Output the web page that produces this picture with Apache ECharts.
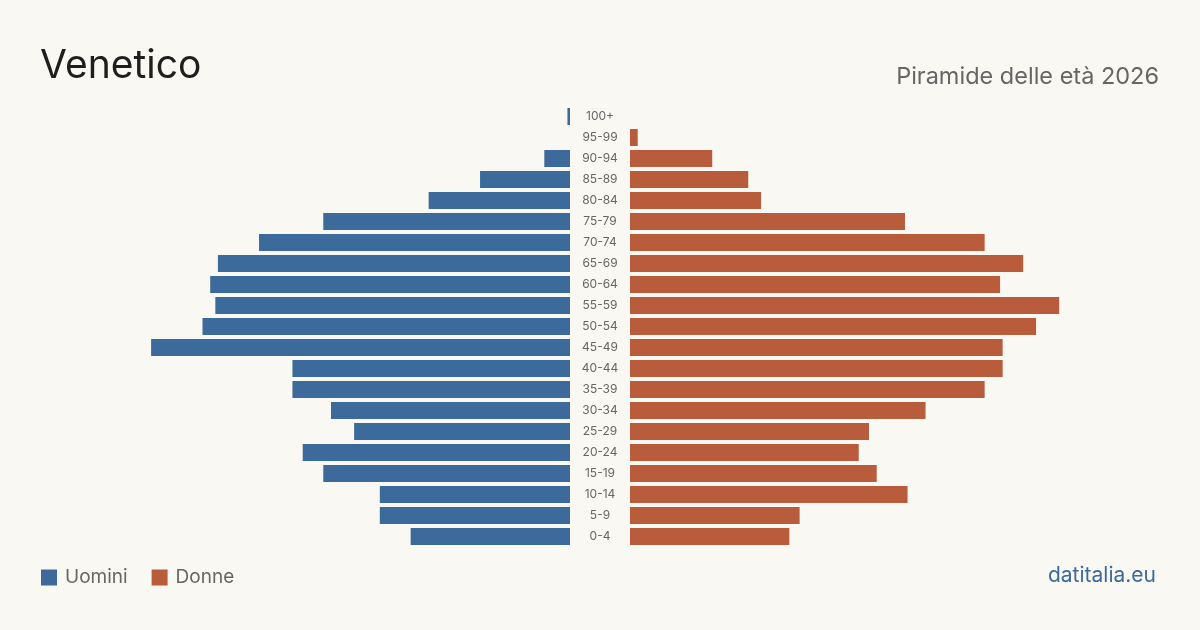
<!DOCTYPE html>
<html>
<head>
<meta charset="utf-8">
<script src="https://cdn.jsdelivr.net/npm/echarts@6/dist/echarts.min.js"></script>
<style>
html,body{margin:0;padding:0;background:#f9f8f3;}
#chart{width:1200px;height:630px;}
</style>
</head>
<body>
<div id="chart"></div>
<script>
const ageGroups = ['0-4','5-9','10-14','15-19','20-24','25-29','30-34','35-39','40-44','45-49','50-54','55-59','60-64','65-69','70-74','75-79','80-84','85-89','90-94','95-99','100+'];
const men   = [62, 74, 74, 96, 104, 84, 93, 108, 108, 163, 143, 138, 140, 137, 121, 96, 55, 35, 10, 0, 1];
const women = [62, 66, 108, 96, 89, 93, 115, 138, 145, 145, 158, 167, 144, 153, 138, 107, 51, 46, 32, 3, 0];
const seriesNames = ['Uomini', 'Donne'];
const titleText = 'Venetico';
const subtitleText = 'Piramide delle età 2026';
const sourceText = 'datitalia.eu';

const FONT = 'Inter, "Noto Sans", sans-serif';
const BLUE = '#3b6a9b';
const ORANGE = '#b95c3c';
const AXMAX = 200;

const chart = echarts.init(document.getElementById('chart'));
chart.setOption({
  backgroundColor: '#f9f8f3',
  animation: false,
  textStyle: { fontFamily: FONT },
  grid: [
    { left: 56, width: 514, top: 106, height: 441 },
    { left: 630, width: 514, top: 106, height: 441 }
  ],
  xAxis: [
    { gridIndex: 0, type: 'value', min: 0, max: AXMAX, inverse: true, show: false },
    { gridIndex: 1, type: 'value', min: 0, max: AXMAX, show: false }
  ],
  yAxis: [
    { gridIndex: 0, type: 'category', data: ageGroups, position: 'right',
      axisLine: { show: false }, axisTick: { show: false },
      axisLabel: { margin: 30, align: 'center', color: '#666', fontSize: 12, fontFamily: FONT, padding: [2, 0, 0, 0] } },
    { gridIndex: 1, type: 'category', data: ageGroups,
      axisLine: { show: false }, axisTick: { show: false }, axisLabel: { show: false } }
  ],
  legend: {
    left: 36, top: 563,
    icon: 'rect', itemWidth: 16, itemHeight: 16, itemGap: 24,
    textStyle: { color: '#666', fontSize: 19, fontFamily: FONT, padding: [0, 0, 0, 3] },
    data: seriesNames
  },
  series: [
    { name: seriesNames[0], type: 'bar', xAxisIndex: 0, yAxisIndex: 0, data: men,
      barWidth: 17, itemStyle: { color: BLUE } },
    { name: seriesNames[1], type: 'bar', xAxisIndex: 1, yAxisIndex: 1, data: women,
      barWidth: 17, itemStyle: { color: ORANGE } }
  ],
  graphic: [
    { type: 'text', left: 40, top: 47,
      style: { text: titleText, fontSize: 39, fill: '#1e1e1e', fontFamily: FONT } },
    { type: 'text', right: 41, top: 65,
      style: { text: subtitleText, fontSize: 23.5, fill: '#666', fontFamily: FONT } },
    { type: 'text', right: 44, top: 565,
      style: { text: sourceText, fontSize: 21, fill: '#3b6a9b', fontFamily: FONT } }
  ]
});
</script>
</body>
</html>
